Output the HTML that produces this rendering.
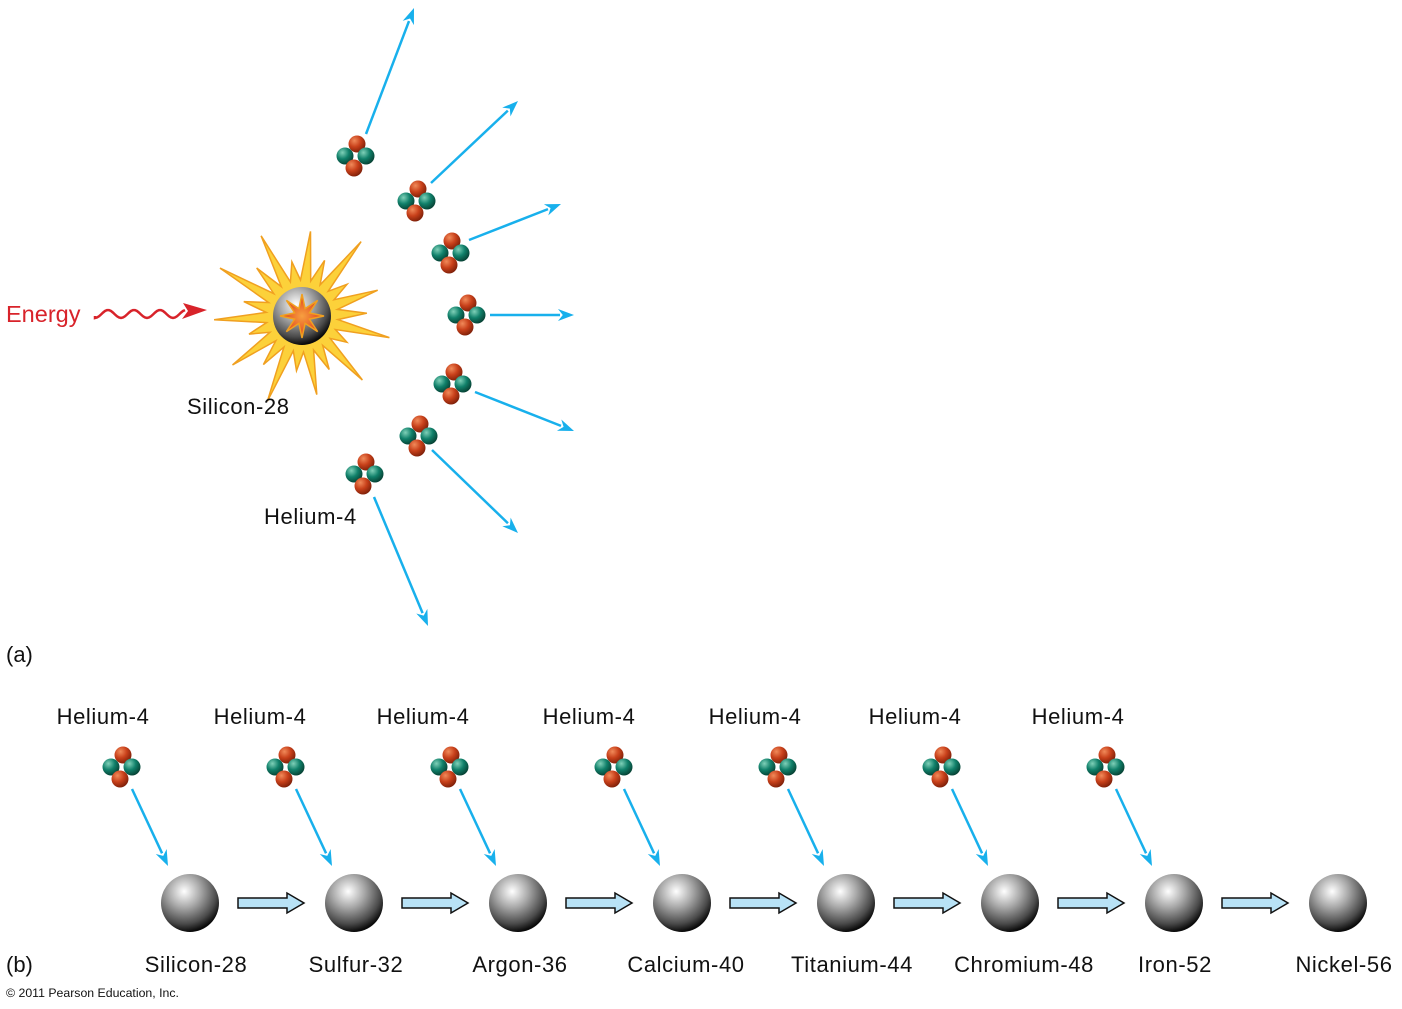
<!DOCTYPE html>
<html><head><meta charset="utf-8">
<style>
html,body{margin:0;padding:0;background:#fff;}
svg{display:block;}
text{font-family:"Liberation Sans",Arial,sans-serif;}
</style></head>
<body>
<svg id="s" width="1402" height="1009" viewBox="0 0 1402 1009" xmlns="http://www.w3.org/2000/svg">
<defs>
<radialGradient id="gr" cx="0.35" cy="0.3" r="0.75">
<stop offset="0" stop-color="#f08a5a"/><stop offset="0.5" stop-color="#c8401a"/><stop offset="1" stop-color="#7a1e08"/>
</radialGradient>
<radialGradient id="gg" cx="0.35" cy="0.3" r="0.75">
<stop offset="0" stop-color="#7fd0b8"/><stop offset="0.5" stop-color="#10806a"/><stop offset="1" stop-color="#063d30"/>
</radialGradient>
<radialGradient id="gs" cx="0.4" cy="0.3" r="0.8">
<stop offset="0" stop-color="#ffffff"/><stop offset="0.35" stop-color="#a8a8a8"/><stop offset="0.7" stop-color="#4a4a4a"/><stop offset="0.88" stop-color="#080808"/><stop offset="1" stop-color="#444"/>
</radialGradient>
<radialGradient id="gst" cx="0.5" cy="0.5" r="0.5">
<stop offset="0" stop-color="#f7a040"/><stop offset="1" stop-color="#e03a1a"/>
</radialGradient>
<g id="he">
<circle cx="1" cy="-12" r="8.5" fill="url(#gr)"/>
<circle cx="-11" cy="0" r="8.5" fill="url(#gg)"/>
<circle cx="10" cy="0" r="8.5" fill="url(#gg)"/>
<circle cx="-2" cy="12" r="8.5" fill="url(#gr)"/>
</g>
</defs>
<g id="dyn"></g>
<text x="6" y="322" font-size="23.5" fill="#d8232a">Energy</text>
<text x="187" y="414" font-size="22" letter-spacing="0.6" fill="#111">Silicon-28</text>
<text x="264" y="524" font-size="22" letter-spacing="0.6" fill="#111">Helium-4</text>
<text x="6" y="662" font-size="22" fill="#111">(a)</text>
<text x="6" y="972" font-size="22" fill="#111">(b)</text>
<text x="6" y="997" font-size="12.3" fill="#111">© 2011 Pearson Education, Inc.</text>
</svg>
<script>
var NS="http://www.w3.org/2000/svg",g=document.getElementById("dyn");
function el(t,a,p){var e=document.createElementNS(NS,t);for(var k in a)e.setAttribute(k,a[k]);(p||g).appendChild(e);return e;}
function arrow(x1,y1,x2,y2,c,w,hl,hw){var dx=x2-x1,dy=y2-y1,L=Math.hypot(dx,dy),ux=dx/L,uy=dy/L;
var bx=x2-ux*hl,by=y2-uy*hl;el("line",{x1:x1,y1:y1,x2:bx+ux*2,y2:by+uy*2,stroke:c,"stroke-width":w});
var px=-uy,py=ux,ix=x2-ux*hl*0.7,iy=y2-uy*hl*0.7;
el("polygon",{points:[x2,y2,bx+px*hw,by+py*hw,ix,iy,bx-px*hw,by-py*hw].join(","),fill:c});}
var d="M95,316";for(var x=95;x<=185;x+=2){d+=" L"+x+","+(314+4*Math.sin((x-95)/26*2*Math.PI+Math.PI/2)).toFixed(1);}
el("path",{d:d,fill:"none",stroke:"#d8232a","stroke-width":2.5});
el("polygon",{points:"207,310 183,303 188,311 182,319",fill:"#d8232a"});
var cx=302,cy=316,pts=[],n=22,outs=[85,60,95,55,80,65,90,52,88,60,80,55,92,62,85,56,88,60,95,66,90,55];
for(var i=0;i<n;i++){var a=i/n*2*Math.PI-Math.PI/2+0.1;var r=outs[i];pts.push((cx+r*Math.cos(a)).toFixed(1)+","+(cy+r*Math.sin(a)).toFixed(1));
var a2=(i+0.5)/n*2*Math.PI-Math.PI/2+0.1;pts.push((cx+36*Math.cos(a2)).toFixed(1)+","+(cy+36*Math.sin(a2)).toFixed(1));}
el("polygon",{points:pts.join(" "),fill:"#fcd13a",stroke:"#f0a020","stroke-width":1.5});
el("circle",{cx:cx,cy:cy,r:29,fill:"url(#gs)"});
var sp=[];for(var i=0;i<16;i++){var a=i/16*2*Math.PI;var r=i%2?8:22;sp.push((cx+r*Math.cos(a)).toFixed(1)+","+(cy+r*Math.sin(a)).toFixed(1));}
el("polygon",{points:sp.join(" "),fill:"url(#gst)",stroke:"#f0a020","stroke-width":1.5});
var hs=[[356,156],[417,201],[451,253],[467,315],[453,384],[419,436],[365,474]];
hs.forEach(function(h){el("use",{href:"#he",x:h[0],y:h[1]});});
var ar=[[366,134,414,8],[431,183,518,101],[469,240,561,204],[490,315,574,315],[475,392,574,431],[432,450,518,533],[374,497,428,626]];
ar.forEach(function(a){arrow(a[0],a[1],a[2],a[3],"#18b0ec",2.5,16,6);});
var names=["Silicon-28","Sulfur-32","Argon-36","Calcium-40","Titanium-44","Chromium-48","Iron-52","Nickel-56"];
var lx=[196,356,520,686,852,1024,1175,1344];
var hx=[103,260,423,589,755,915,1078];
for(var i=0;i<8;i++){var sx=190+164*i;
el("circle",{cx:sx,cy:903,r:29,fill:"url(#gs)"});
var t=el("text",{x:lx[i],y:972,"font-size":22,"letter-spacing":0.6,fill:"#111","text-anchor":"middle"});t.textContent=names[i];
if(i<7){el("use",{href:"#he",x:122+164*i,y:767});
arrow(132+164*i,789,168+164*i,866,"#18b0ec",2.5,16,6);
var t2=el("text",{x:hx[i],y:724,"font-size":22,"letter-spacing":0.6,fill:"#111","text-anchor":"middle"});t2.textContent="Helium-4";
var bx=238+164*i;
el("polygon",{points:[bx,898,bx+49,898,bx+49,893,bx+66,903,bx+49,913,bx+49,908,bx,908].join(","),fill:"#b8e2f6",stroke:"#111","stroke-width":1.5});}
}
</script>
</body></html>
